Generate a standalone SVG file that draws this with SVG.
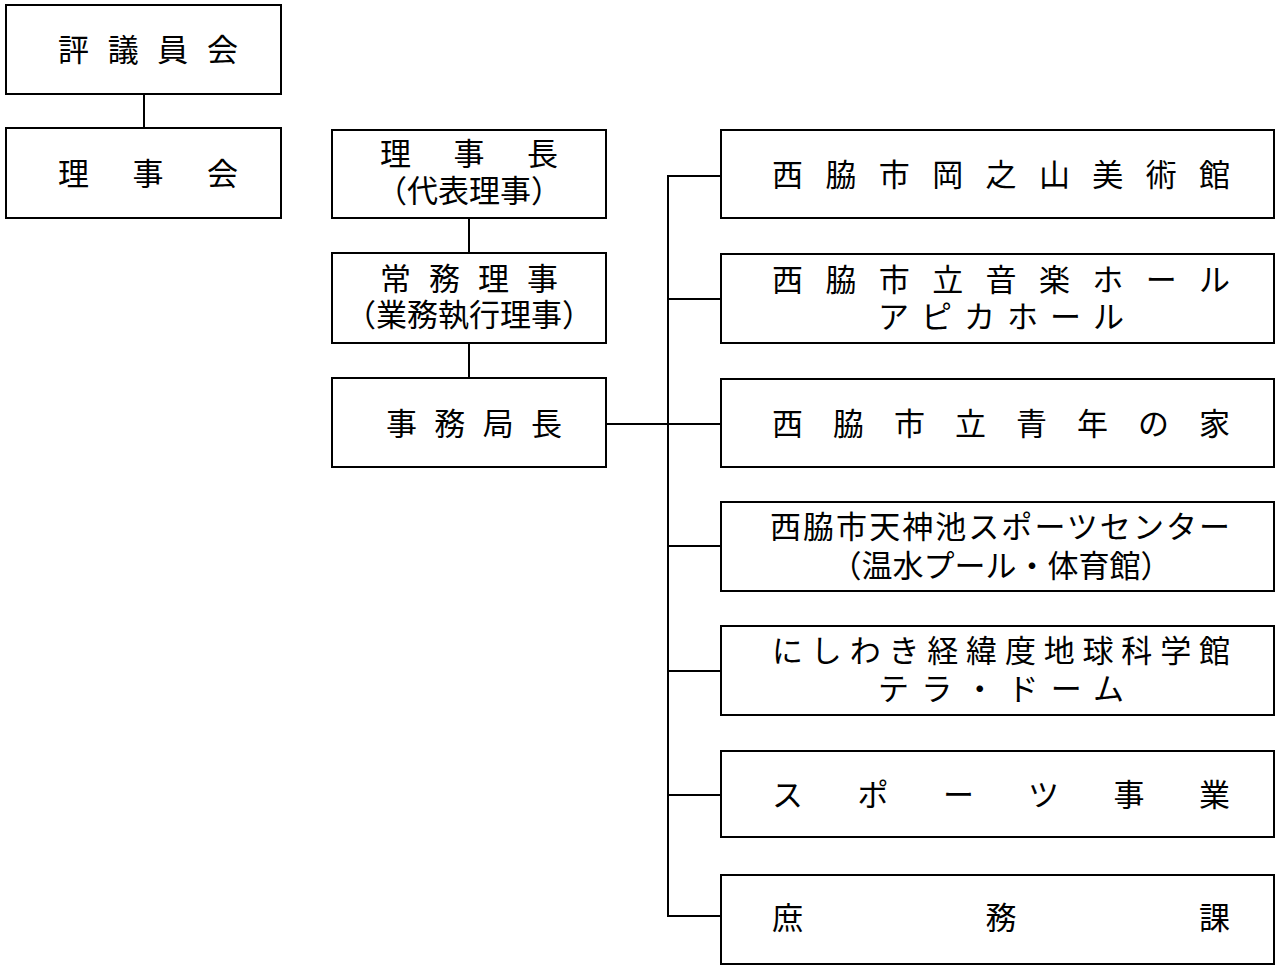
<svg xmlns="http://www.w3.org/2000/svg" width="1280" height="969" viewBox="0 0 1280 969">
<style>
.b{fill:#fff;stroke:#000;stroke-width:2}
line{stroke:#000;stroke-width:2}
text{font-family:"Noto Sans CJK JP",sans-serif;font-size:31px;fill:#000}
</style>
<rect width="1280" height="969" fill="#fff"/>
<g id="connectors">
<line x1="144" y1="94" x2="144" y2="128"/>
<line x1="469" y1="218" x2="469" y2="253"/>
<line x1="469" y1="343" x2="469" y2="378"/>
<line x1="606" y1="424" x2="721" y2="424"/>
<line x1="668" y1="175" x2="668" y2="917"/>
<line x1="667" y1="176" x2="721" y2="176"/>
<line x1="668" y1="299" x2="721" y2="299"/>
<line x1="668" y1="546" x2="721" y2="546"/>
<line x1="668" y1="671" x2="721" y2="671"/>
<line x1="668" y1="795" x2="721" y2="795"/>
<line x1="667" y1="916" x2="721" y2="916"/>
</g>
<g id="n1"><rect class="b" x="6" y="5" width="275" height="89"/><text x="58" y="61" textLength="180" lengthAdjust="spacing">評議員会</text></g>
<g id="n2"><rect class="b" x="6" y="128" width="275" height="90"/><text x="58" y="185" textLength="180" lengthAdjust="spacing">理事会</text></g>
<g id="n3"><rect class="b" x="332" y="130" width="274" height="88"/><text x="380" y="165" textLength="178" lengthAdjust="spacing">理事長</text><text x="469" y="202" text-anchor="middle">（代表理事）</text></g>
<g id="n4"><rect class="b" x="332" y="253" width="274" height="90"/><text x="380" y="290" textLength="178" lengthAdjust="spacing">常務理事</text><text x="469" y="326" text-anchor="middle">（業務執行理事）</text></g>
<g id="n5"><rect class="b" x="332" y="378" width="274" height="89"/><text x="386" y="435" textLength="176" lengthAdjust="spacing">事務局長</text></g>
<g id="r1"><rect class="b" x="721" y="130" width="553" height="88"/><text x="772" y="186" textLength="458" lengthAdjust="spacing">西脇市岡之山美術館</text></g>
<g id="r2"><rect class="b" x="721" y="254" width="553" height="89"/><text x="772" y="291" textLength="458" lengthAdjust="spacing">西脇市立音楽ホール</text><text x="878" y="328" textLength="246" lengthAdjust="spacing">アピカホール</text></g>
<g id="r3"><rect class="b" x="721" y="379" width="553" height="88"/><text x="772" y="435" textLength="458" lengthAdjust="spacing">西脇市立青年の家</text></g>
<g id="r4"><rect class="b" x="721" y="502" width="553" height="89"/><text x="770" y="538" textLength="460" lengthAdjust="spacing">西脇市天神池スポーツセンター</text><text x="1001" y="577" text-anchor="middle">（温水プール・体育館）</text></g>
<g id="r5"><rect class="b" x="721" y="626" width="553" height="89"/><text x="772" y="662" textLength="458" lengthAdjust="spacing">にしわき経緯度地球科学館</text><text x="878" y="700" textLength="246" lengthAdjust="spacing">テラ・ドーム</text></g>
<g id="r6"><rect class="b" x="721" y="751" width="553" height="86"/><text x="772" y="806" textLength="458" lengthAdjust="spacing">スポーツ事業</text></g>
<g id="r7"><rect class="b" x="721" y="875" width="553" height="89"/><text x="772" y="929" textLength="458" lengthAdjust="spacing">庶務課</text></g>
</svg>
